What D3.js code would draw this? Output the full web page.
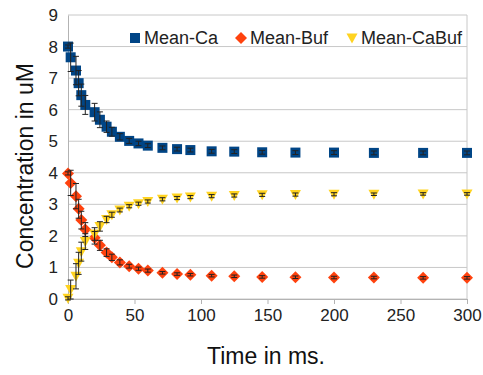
<!DOCTYPE html>
<html>
<head>
<meta charset="utf-8">
<script src="https://cdn.jsdelivr.net/npm/d3@7"></script>
<style>
body { margin:0; background:#fff; }
text { font-family:"Liberation Sans", Arial, sans-serif; }
</style>
</head>
<body>
<svg id="chart" width="483" height="375"></svg>
<script>
// time points (ms)
var times = [0, 2, 6, 8, 10, 13, 20, 24, 29, 33, 39, 46, 53, 60, 71, 82, 92, 108, 125, 146, 171, 200, 230, 267, 300];

var meanCa    = [8.0, 7.66, 7.24, 6.84, 6.46, 6.15, 5.92, 5.68, 5.46, 5.3, 5.14, 5.01, 4.93, 4.86, 4.79, 4.75, 4.72, 4.68, 4.67, 4.65, 4.64, 4.64, 4.63, 4.63, 4.63];
var errCa     = [0.05, 0.45, 0.45, 0.4, 0.35, 0.3, 0.28, 0.25, 0.18, 0.14, 0.1, 0.08, 0.07, 0.06, 0.06, 0.06, 0.06, 0.06, 0.06, 0.06, 0.06, 0.06, 0.06, 0.06, 0.06];

var meanBuf   = [3.98, 3.68, 3.26, 2.86, 2.5, 2.2, 1.94, 1.7, 1.47, 1.32, 1.16, 1.04, 0.96, 0.9, 0.83, 0.79, 0.77, 0.74, 0.72, 0.7, 0.69, 0.68, 0.68, 0.67, 0.67];
var errBuf    = [0.05, 0.4, 0.4, 0.3, 0.28, 0.22, 0.2, 0.16, 0.12, 0.1, 0.08, 0.06, 0.05, 0.05, 0.04, 0.04, 0.04, 0.04, 0.04, 0.04, 0.04, 0.04, 0.04, 0.04, 0.04];

var meanCaBuf = [0.02, 0.3, 0.72, 1.13, 1.5, 1.82, 2.06, 2.3, 2.52, 2.67, 2.82, 2.94, 3.02, 3.09, 3.16, 3.2, 3.23, 3.26, 3.28, 3.3, 3.31, 3.32, 3.32, 3.33, 3.33];
var errCaBuf  = [0.05, 0.3, 0.4, 0.35, 0.3, 0.25, 0.2, 0.15, 0.1, 0.08, 0.06, 0.05, 0.05, 0.05, 0.05, 0.05, 0.05, 0.05, 0.05, 0.05, 0.05, 0.05, 0.04, 0.04, 0.04];

var xTicks = [0, 50, 100, 150, 200, 250, 300];
var yTicks = [0, 1, 2, 3, 4, 5, 6, 7, 8, 9];

var series = [
    {name:"Mean-Ca", values:meanCa, err:errCa, color:"#004586", shape:"square"},
    {name:"Mean-Buf", values:meanBuf, err:errBuf, color:"#ff420e", shape:"diamond"},
    {name:"Mean-CaBuf", values:meanCaBuf, err:errCaBuf, color:"#ffd320", shape:"triangle"}
];

var svg = d3.select("#chart");
// plot area (don't call it "top", window.top is read-only)
var pLeft = 68, pRight = 467, pTop = 15, pBottom = 299;

var x = d3.scaleLinear().domain([0, 300]).range([pLeft, pRight]);
var y = d3.scaleLinear().domain([0, 9]).range([pBottom, pTop]);

// grid
svg.append("g").selectAll("line").data(yTicks).enter().append("line")
    .attr("x1", pLeft).attr("x2", pRight)
    .attr("y1", d => y(d)).attr("y2", d => y(d))
    .attr("stroke", "#c8c8c8").attr("stroke-width", 1);

// frame right edge
svg.append("line").attr("x1", pRight).attr("x2", pRight).attr("y1", pTop).attr("y2", pBottom)
    .attr("stroke", "#c8c8c8");

// x axis
var xAxis = svg.append("g").attr("transform", "translate(0," + pBottom + ")")
    .call(d3.axisBottom(x).tickValues(xTicks).tickSize(5).tickPadding(5));
xAxis.select(".domain").attr("stroke", "#b3b3b3");
xAxis.selectAll(".tick line").attr("stroke", "#b3b3b3");
xAxis.selectAll("text").attr("font-size", 17).attr("fill", "#222")
    .style("font-family", "'Liberation Sans', Arial, sans-serif");

// y axis
var yAxis = svg.append("g").attr("transform", "translate(" + pLeft + ",0)")
    .call(d3.axisLeft(y).tickValues(yTicks).tickSize(0).tickPadding(10));
yAxis.select(".domain").attr("stroke", "#b3b3b3");
yAxis.selectAll("text").attr("font-size", 17).attr("fill", "#222")
    .style("font-family", "'Liberation Sans', Arial, sans-serif");

function symbolFor(shape) {
    if (shape == "square") return d3.symbol().type(d3.symbolSquare).size(100)();
    if (shape == "diamond") return "M0,-6L6,0L0,6L-6,0Z";
    return "M-5.5,-4.5L5.5,-4.5L0,5.5Z";
}

series.forEach(function(s){
    var g = svg.append("g");
    var pts = times.map((t, i) => ({t:t, v:s.values[i], e:s.err[i]}));
    g.selectAll("path").data(pts).enter().append("path")
        .attr("d", symbolFor(s.shape))
        .attr("transform", d => "translate(" + x(d.t) + "," + y(d.v) + ")")
        .attr("fill", s.color);
    s.pts = pts;
});

// error bars on top
series.forEach(function(s){
    var g = svg.append("g").attr("stroke", "#222").attr("stroke-width", 1).attr("fill", "none");
    s.pts.forEach(function(d){
        var y0 = y(d.v - d.e), y1 = y(d.v + d.e), cx = x(d.t);
        g.append("line").attr("x1", cx).attr("x2", cx).attr("y1", y0).attr("y2", y1);
        g.append("line").attr("x1", cx - 3).attr("x2", cx + 3).attr("y1", y0).attr("y2", y0);
        g.append("line").attr("x1", cx - 3).attr("x2", cx + 3).attr("y1", y1).attr("y2", y1);
    });
});

// legend
var legendX = [135, 241, 352];
series.forEach(function(s, i){
    svg.append("path").attr("d", symbolFor(s.shape))
        .attr("transform", "translate(" + legendX[i] + ",38)")
        .attr("fill", s.color);
    svg.append("text").attr("x", legendX[i] + 9).attr("y", 44)
        .attr("font-size", 18).attr("fill", "#222").text(s.name);
});

// axis titles
svg.append("text").attr("x", 266).attr("y", 364).attr("text-anchor", "middle")
    .attr("font-size", 23).attr("fill", "#111").text("Time in ms.");
svg.append("text").attr("transform", "translate(33,166) rotate(-90)").attr("text-anchor", "middle")
    .attr("font-size", 23).attr("fill", "#111").text("Concentration in uM");
</script>
</body>
</html>
